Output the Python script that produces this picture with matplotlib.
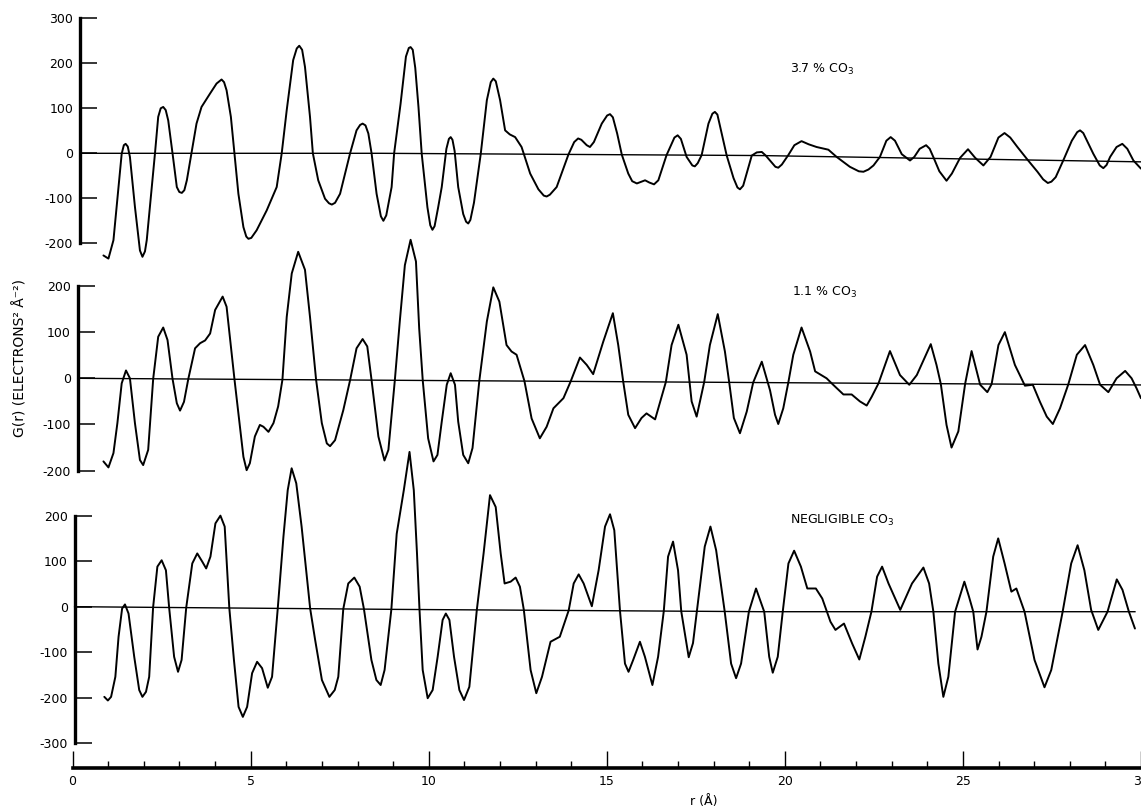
import matplotlib
matplotlib.use("Agg")
import matplotlib.pyplot as plt
from matplotlib.ticker import FixedLocator

plt.rcParams['axes.unicode_minus'] = False

# ---------------- data ----------------
# r in Angstrom, G(r) in electrons^2 A^-2
top_r = [0.85, 0.99, 1.13, 1.27, 1.36, 1.42, 1.47, 1.53, 1.59, 1.73, 1.87, 1.94, 2.01, 2.06, 2.20,
         2.29, 2.38, 2.45, 2.52, 2.59, 2.66, 2.78, 2.90, 2.97, 3.04, 3.11, 3.18, 3.31, 3.45, 3.59,
         3.83, 4.01, 4.15, 4.22, 4.29, 4.41, 4.51, 4.62, 4.76, 4.84, 4.90, 4.98, 5.13, 5.41, 5.69,
         5.83, 5.97, 6.15, 6.25, 6.32, 6.40, 6.48, 6.62, 6.70, 6.85, 7.04, 7.15, 7.23, 7.32, 7.46,
         7.74, 7.92, 8.02, 8.09, 8.17, 8.25, 8.34, 8.48, 8.60, 8.67, 8.75, 8.90, 8.97, 9.15, 9.30,
         9.38, 9.43, 9.49, 9.56, 9.65, 9.74, 9.90, 9.98, 10.04, 10.10, 10.20, 10.30, 10.43, 10.50,
         10.55, 10.60, 10.66, 10.76, 10.90, 10.98, 11.04, 11.10, 11.20, 11.39, 11.56, 11.67, 11.74,
         11.81, 11.93, 12.07, 12.20, 12.35, 12.53, 12.77, 13.00, 13.15, 13.23, 13.32, 13.51, 13.84,
         14.00, 14.11, 14.20, 14.35, 14.44, 14.55, 14.77, 14.92, 15.00, 15.08, 15.20, 15.33, 15.51,
         15.62, 15.75, 15.88, 15.98, 16.10, 16.23, 16.35, 16.58, 16.80, 16.89, 16.98, 17.14, 17.30,
         17.37, 17.45, 17.56, 17.75, 17.86, 17.93, 18.00, 18.12, 18.26, 18.45, 18.56, 18.63, 18.72,
         18.96, 19.10, 19.24, 19.35, 19.47, 19.62, 19.70, 19.80, 19.98, 20.15, 20.35, 20.55, 20.77,
         21.10, 21.33, 21.70, 21.95, 22.08, 22.22, 22.36, 22.54, 22.72, 22.84, 22.96, 23.15, 23.38,
         23.50, 23.65, 23.83, 23.93, 24.03, 24.20, 24.40, 24.55, 24.78, 25.00, 25.20, 25.43, 25.63,
         25.85, 26.02, 26.18, 26.38, 26.66, 26.94, 27.10, 27.23, 27.33, 27.45, 27.66, 27.90, 28.05,
         28.13, 28.22, 28.50, 28.68, 28.78, 28.87, 28.97, 29.15, 29.31, 29.45, 29.62, 29.83]
top_g = [-227, -234, -193, -75, -1, 18, 21, 15, -8, -119, -216, -230, -218, -193, -75,
         0, 81, 100, 103, 96, 73, 0, -75, -86, -88, -82, -60, 0, 66, 103,
         133, 155, 164, 158, 140, 81, 0, -90, -164, -185, -190, -188, -171, -127, -75,
         0, 96, 207, 233, 239, 230, 192, 81, 0, -60, -101, -111, -114, -110, -90,
         0, 51, 63, 66, 62, 44, 0, -90, -140, -150, -138, -75, 0, 110, 215,
         234, 236, 230, 190, 103, -0.5, -120, -160, -170, -162, -120, -75, 10, 32,
         36, 30, 5, -75, -135, -152, -156, -148, -110, -1, 118, 158, 166,
         160, 118, 51, 42, 36, 14, -45, -80, -94, -96, -92, -75, -2.5,
         25, 33, 30, 18, 14, 25, 66, 84, 87, 80, 44, -3, -45,
         -62, -67, -63, -60, -65, -69, -60, -4, 35, 40, 32, -8, -27,
         -29, -22, -4, 66, 88, 92, 86, 44, -5, -55, -76, -80, -72,
         -5, 2, 3, -5, -16, -30, -32, -25, -4, 18, 27, 20, 14,
         8, -8, -30, -40, -41, -36, -27, -8, 28, 36, 28, -2, -16,
         -8, 10, 18, 10, -8, -40, -61, -45, -10, 9, -10, -27, -8,
         35, 45, 35, 14, -14, -41, -58, -66, -63, -53, -16, 28, 47,
         51, 45, -1, -27, -33, -26, -8, 14, 21, 10, -16, -34]

mid_r = [0.85, 0.99, 1.13, 1.24, 1.36, 1.48, 1.59, 1.73, 1.87, 1.96, 2.10, 2.24, 2.38, 2.52, 2.64,
         2.78, 2.90, 2.99, 3.10, 3.22, 3.41, 3.55, 3.69, 3.83, 3.97, 4.18, 4.29, 4.41, 4.51, 4.65,
         4.76, 4.85, 4.94, 5.08, 5.22, 5.32, 5.46, 5.60, 5.73, 5.85, 5.97, 6.11, 6.29, 6.48, 6.62,
         6.79, 6.95, 7.09, 7.18, 7.32, 7.55, 7.74, 7.92, 8.09, 8.22, 8.34, 8.53, 8.70, 8.81, 8.99,
         9.13, 9.27, 9.43, 9.58, 9.67, 9.77, 9.92, 10.07, 10.18, 10.30, 10.44, 10.55, 10.67, 10.76,
         10.90, 11.04, 11.16, 11.35, 11.56, 11.74, 11.91, 12.11, 12.25, 12.39, 12.61, 12.81, 13.04,
         13.23, 13.42, 13.70, 13.90, 14.16, 14.35, 14.53, 14.81, 15.08, 15.23, 15.37, 15.51, 15.70,
         15.88, 16.02, 16.26, 16.56, 16.72, 16.91, 17.14, 17.28, 17.42, 17.63, 17.79, 18.01, 18.21,
         18.33, 18.46, 18.63, 18.82, 19.00, 19.24, 19.47, 19.61, 19.70, 19.84, 19.98, 20.12, 20.35,
         20.59, 20.73, 21.05, 21.22, 21.52, 21.75, 21.98, 22.17, 22.31, 22.50, 22.82, 23.10, 23.36,
         23.57, 23.96, 24.12, 24.24, 24.40, 24.54, 24.73, 24.92, 25.10, 25.34, 25.54, 25.66, 25.85,
         26.03, 26.31, 26.59, 26.81, 27.01, 27.20, 27.37, 27.57, 27.80, 28.04, 28.27, 28.50, 28.69,
         28.92, 29.15, 29.39, 29.57, 29.71, 29.83]
mid_g = [-180, -193, -162, -97, -11, 17, 0, -97, -177, -188, -155, -1, 90, 110, 83,
         -1, -54, -70, -51, -1.6, 65, 76, 82, 97, 148, 177, 155, 69, -2, -97,
         -170, -199, -184, -126, -101, -105, -116, -97, -61, -3, 133, 227, 274, 235, 133,
         -3, -97, -141, -147, -134, -69, -4, 65, 85, 69, -4, -126, -178, -155, -4,
         125, 245, 300, 253, 108, -5, -130, -180, -166, -94, -14, 11, -14, -94,
         -166, -184, -151, -5, 123, 197, 166, 72, 58, 51, -6, -87, -130,
         -105, -65, -43, -7, 45, 29, 9, 79, 141, 72, -7.5, -79, -108,
         -86, -76, -89, -8, 72, 116, 51, -50, -83, -8.5, 72, 139, 58,
         -9, -86, -119, -72, -9, 36, -26, -79, -99, -65, -9.5, 51, 110,
         58, 15, 0, -13, -35, -35, -50, -59, -40, -11, 59, 7, -14,
         7, 74, 29, -12, -101, -150, -115, -12, 59, -14, -30, -12.5, 72,
         100, 29, -16, -14, -51, -83, -99, -65, -13.5, 51, 72, 29, -14,
         -30, 0, 16, 0, -22, -43]

neg_r = [0.89, 0.99, 1.08, 1.20, 1.29, 1.39, 1.47, 1.57, 1.73, 1.87, 1.96, 2.06, 2.15, 2.26, 2.38,
         2.50, 2.62, 2.71, 2.85, 2.96, 3.06, 3.19, 3.36, 3.50, 3.64, 3.75, 3.87, 4.01, 4.15, 4.27,
         4.40, 4.53, 4.66, 4.78, 4.90, 5.04, 5.18, 5.32, 5.48, 5.60, 5.76, 5.92, 6.04, 6.15, 6.28,
         6.43, 6.67, 6.81, 7.00, 7.21, 7.36, 7.46, 7.60, 7.74, 7.91, 8.06, 8.18, 8.39, 8.53, 8.65,
         8.76, 8.95, 9.10, 9.30, 9.46, 9.58, 9.67, 9.74, 9.83, 9.97, 10.11, 10.25, 10.39, 10.48,
         10.58, 10.71, 10.86, 10.99, 11.14, 11.35, 11.54, 11.72, 11.88, 12.02, 12.13, 12.30, 12.44,
         12.56, 12.67, 12.86, 13.02, 13.18, 13.42, 13.68, 13.93, 14.07, 14.21, 14.35, 14.58, 14.77,
         14.95, 15.09, 15.21, 15.37, 15.51, 15.61, 15.74, 15.93, 16.07, 16.28, 16.44, 16.60, 16.72,
         16.86, 17.00, 17.09, 17.30, 17.42, 17.53, 17.75, 17.91, 18.07, 18.31, 18.49, 18.63, 18.77,
         18.99, 19.19, 19.42, 19.56, 19.66, 19.80, 19.94, 20.10, 20.26, 20.45, 20.63, 20.87, 21.05,
         21.28, 21.42, 21.66, 21.89, 22.09, 22.26, 22.43, 22.59, 22.73, 22.91, 23.24, 23.57, 23.89,
         24.05, 24.17, 24.31, 24.45, 24.59, 24.78, 25.04, 25.17, 25.29, 25.41, 25.52, 25.66, 25.85,
         25.99, 26.17, 26.36, 26.50, 26.73, 27.01, 27.29, 27.48, 27.80, 28.04, 28.22, 28.41, 28.60,
         28.80, 29.06, 29.32, 29.48, 29.66, 29.83]
neg_g = [-198, -206, -198, -154, -66, -4, 5, -15, -110, -183, -198, -187, -154, -1.5, 88,
         102, 80, -1.8, -110, -143, -117, -2, 95, 117, 99, 84, 110, 183, 200, 176,
         -3, -117, -220, -242, -220, -146, -121, -135, -178, -154, -4, 154, 256, 304, 271,
         176, -4, -73, -161, -198, -183, -154, -5, 51, 64, 44, -5, -117, -161, -172,
         -139, -6, 160, 256, 340, 256, 117, -6, -139, -201, -183, -110, -29, -15,
         -29, -110, -183, -205, -176, -7, 117, 245, 219, 117, 51, 55, 64,
         44, -7, -139, -190, -154, -77, -66, -8, 51, 71, 51, 1, 80,
         176, 203, 168, -9, -125, -143, -117, -77, -110, -172, -110, -9.6, 110,
         143, 80, -10, -111, -80, -10, 132, 176, 124, -10.4, -125, -157, -125,
         -10.8, 40, -11, -110, -145, -110, -11, 95, 123, 88, 40, 40, 18,
         -33, -51, -37, -81, -116, -66, -11, 66, 88, 51, -7, 51, 86,
         51, -11, -125, -198, -154, -11, 55, 22, -11, -94, -66, -11, 110,
         150, 95, 33, 40, -11, -117, -177, -139, -11, 95, 135, 80, -7,
         -51, -11, 60, 37, -11, -48]

series = [(top_r, top_g), (mid_r, mid_g), (neg_r, neg_g)]
labels = ["3.7 % CO$_3$", "1.1 % CO$_3$", "NEGLIGIBLE CO$_3$"]
yticks = [[-200, -100, 0, 100, 200, 300],
          [-200, -100, 0, 100, 200],
          [-300, -200, -100, 0, 100, 200]]
ytick_labels = [[str(t) for t in tk] for tk in yticks]
xticks = [0, 5, 10, 15, 20, 25, 30]
xtick_labels = [str(t) for t in xticks]
xminor = list(range(0, 31))

# slight drift of the scanned zero lines
base_r = [[0.196, 8.6, 19.2, 29.83], [0.131, 29.83], [0.056, 9.1, 19.4, 29.83]]
base_g = [[0, 0, -5, -19], [0, -14.4], [0, -5.9, -11, -11]]

# ---------------- layout (pixel geometry of the page) ----------------
W, H = 1141, 811
x0_px, px_per_r = 73.0, 35.8
zero_px = [153.3, 378.3, 606.7]        # pixel row of G = 0 per panel
px_per_g = [0.45, 0.4617, 0.4553]      # pixels per unit of G per panel
spine_px = [80, 77.7, 75]
xaxis_px = 768

fig = plt.figure(figsize=(W / 100, H / 100), dpi=100)
tick_font = ['Liberation Sans Narrow', 'DejaVu Sans']

xlim = (-x0_px / px_per_r, (W - x0_px) / px_per_r)

for i in range(3):
    ax = fig.add_axes([0, 0, 1, 1])
    ax.patch.set_alpha(0)
    z, s = zero_px[i], px_per_g[i]
    ax.set_xlim(*xlim)
    ax.set_ylim((z - H) / s, z / s)
    for sp in ['top', 'right']:
        ax.spines[sp].set_visible(False)
    r_sp = (spine_px[i] - x0_px) / px_per_r
    ax.spines['left'].set_position(('data', r_sp))
    ax.spines['left'].set_bounds(yticks[i][0], yticks[i][-1])
    ax.spines['left'].set_linewidth(2.4)
    ax.set_yticks(yticks[i], labels=ytick_labels[i])
    ax.tick_params(axis='y', direction='in', length=12.5, width=1.1, pad=5,
                   labelsize=9)
    for lab in ax.get_yticklabels():
        lab.set_family(tick_font)

    if i < 2:
        ax.spines['bottom'].set_visible(False)
        ax.xaxis.set_visible(False)
    else:
        g_ax = (z - xaxis_px) / s
        ax.spines['bottom'].set_position(('data', g_ax))
        ax.spines['bottom'].set_bounds(0, 30)
        ax.spines['bottom'].set_linewidth(2.6)
        ax.set_xticks(xticks, labels=xtick_labels)
        ax.xaxis.set_minor_locator(FixedLocator(xminor))
        ax.tick_params(axis='x', which='major', direction='in', length=12.5,
                       width=1.0, pad=5, labelsize=9)
        ax.tick_params(axis='x', which='minor', direction='in', length=5, width=1.0)
        for lab in ax.get_xticklabels():
            lab.set_family(tick_font)

    ax.plot(base_r[i], base_g[i], color='black', lw=1.0)
    rr, gg = series[i]
    ax.plot(rr, gg, color='black', lw=1.4, solid_joinstyle='round',
            solid_capstyle='round')

# curve labels
label_pos = [(790, 69), (792, 292), (790, 520)]
for (px, py), txt in zip(label_pos, labels):
    fig.text(px / W, 1 - py / H, txt, ha='left', va='center', fontsize=9,
             family=tick_font)

fig.text(20 / W, 1 - 358 / H, "G(r) (ELECTRONS² Å⁻²)", rotation=90,
         ha='center', va='center', fontsize=10, family=['DejaVu Sans'])
fig.text(704 / W, 1 - 802 / H, "r (Å)", ha='center', va='center', fontsize=9,
         family=tick_font)

fig.savefig("out.png", dpi=100)
